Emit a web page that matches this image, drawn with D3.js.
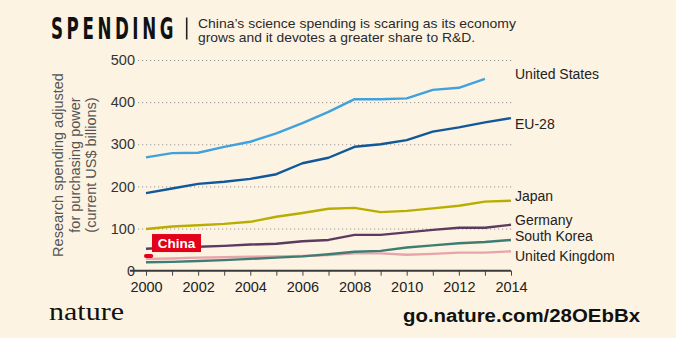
<!DOCTYPE html>
<html>
<head>
<meta charset="utf-8">
<script src="https://cdn.jsdelivr.net/npm/d3@7"></script>
<style>
  body { margin: 0; background: #fdf3e2; }
  svg { display: block; }
</style>
</head>
<body>
<svg id="chart" width="676" height="338" font-family="Liberation Sans, Arial, sans-serif"></svg>
<script>
// data (US$ billions, PPP)
var years = [2000, 2001, 2002, 2003, 2004, 2005, 2006, 2007, 2008, 2009, 2010, 2011, 2012, 2013, 2014];
var unitedStates = [269, 279, 280, 294, 306, 326, 350, 377, 407, 407, 409, 429, 434, 455];
var eu28 = [184, 195, 206, 211, 218, 229, 255, 268, 294, 300, 310, 330, 340, 352, 362];
var japan = [99, 105, 108, 111, 116, 128, 137, 147, 149, 139, 142, 148, 154, 164, 166];
var germany = [52, 55, 57, 59, 62, 64, 70, 73, 85, 85, 91, 97, 102, 102, 109];
var southKorea = [20, 21, 23, 25, 28, 31, 34, 39, 45, 47, 55, 60, 65, 68, 73];
var unitedKingdom = [28, 29, 31, 32, 33, 34, 35, 37, 41, 41, 38, 40, 43, 43, 46];
var chinaYears = [2000, 2000.2];
var china = [35, 35];
var yTicks = [0, 100, 200, 300, 400, 500];
var xTickLabels = [2000, 2002, 2004, 2006, 2008, 2010, 2012, 2014];

var series = [
  {name: 'United Kingdom', values: unitedKingdom, color: '#e9a3ab', labelAt: 35},
  {name: 'South Korea', values: southKorea, color: '#3e7d74', labelAt: 82},
  {name: 'Germany', values: germany, color: '#5b3b5f', labelAt: 120},
  {name: 'Japan', values: japan, color: '#b9ae00', labelAt: 176},
  {name: 'EU-28', values: eu28, color: '#10589a', labelAt: 348},
  {name: 'United States', values: unitedStates, color: '#3fa2dd', labelAt: 467}
];

var svg = d3.select('#chart');

var x = d3.scaleLinear().domain([2000, 2014]).range([146, 511]);
var y = d3.scaleLinear().domain([0, 500]).range([270.7, 60]);

// header: condensed, letter-spaced title squeezed into the space before the bar
var title = svg.append('text')
  .attr('font-family', 'DejaVu Sans Condensed, Liberation Sans Narrow, sans-serif')
  .attr('font-weight', 'bold')
  .attr('font-size', 31)
  .attr('letter-spacing', 6)
  .attr('fill', '#111')
  .text('SPENDING');
var tw = title.node().getBBox().width;
title.attr('transform', 'translate(51,39) scale(' + (126 / tw) + ',1)');

svg.append('line')
  .attr('x1', 186.7).attr('x2', 186.7)
  .attr('y1', 17.5).attr('y2', 39.5)
  .attr('stroke', '#222').attr('stroke-width', 1.6);

var sub = svg.append('g').attr('fill', '#2a2a2a').attr('font-size', 13.5);
sub.append('text').attr('x', 198).attr('y', 27.5)
  .attr('textLength', 318).attr('lengthAdjust', 'spacingAndGlyphs')
  .text('China\u2019s science spending is scaring as its economy');
sub.append('text').attr('x', 198).attr('y', 41.9)
  .attr('textLength', 277).attr('lengthAdjust', 'spacingAndGlyphs')
  .text('grows and it devotes a greater share to R&D.');

// y grid + labels
var yAxis = svg.append('g')
  .attr('transform', 'translate(138,0)')
  .call(d3.axisLeft(y).tickValues(yTicks).tickSize(-(512 - 138)).tickPadding(3));
yAxis.select('.domain').remove();
yAxis.selectAll('.tick line')
  .attr('stroke', '#999')
  .attr('stroke-dasharray', '1.2,2.8')
  .attr('stroke-width', 1);
yAxis.selectAll('.tick').filter(function (d) { return d === 0; }).select('line').remove();
yAxis.selectAll('.tick text')
  .attr('font-size', 14.5)
  .attr('fill', '#333')
  .attr('font-family', 'Liberation Sans, Arial, sans-serif');

// x axis with a tick every year
var xAxis = svg.append('g')
  .attr('transform', 'translate(0,' + y(0) + ')')
  .call(d3.axisBottom(x).tickValues(years).tickSize(5).tickPadding(6)
    .tickFormat(function (d) { return xTickLabels.indexOf(d) > -1 ? d : ''; }));
xAxis.select('.domain').remove();
xAxis.selectAll('.tick line').attr('stroke', '#444').attr('stroke-width', 1);
xAxis.selectAll('.tick text')
  .attr('font-size', 14.5)
  .attr('fill', '#222')
  .attr('font-family', 'Liberation Sans, Arial, sans-serif');

svg.append('line')
  .attr('x1', 130).attr('x2', x(2014))
  .attr('y1', y(0)).attr('y2', y(0))
  .attr('stroke', '#3a3a3a').attr('stroke-width', 2);

// y axis title
var yTitle = svg.append('text')
  .attr('transform', 'translate(58,165) rotate(-90)')
  .attr('text-anchor', 'middle')
  .attr('font-size', 14.5)
  .attr('fill', '#555');
['Research spending adjusted', 'for purchasing power', '(current US$ billions)'].forEach(function (t, i) {
  yTitle.append('tspan')
    .attr('x', 0).attr('dy', i === 0 ? '0.35em' : 16.7)
    .text(t);
});

// lines
var line = d3.line()
  .x(function (d) { return x(d[0]); })
  .y(function (d) { return y(d[1]); });

svg.selectAll('path.series').data(series)
  .enter().append('path')
  .attr('class', 'series')
  .attr('fill', 'none')
  .attr('stroke', function (d) { return d.color; })
  .attr('stroke-width', 2.4)
  .attr('stroke-linejoin', 'round')
  .attr('d', function (d) {
    return line(d.values.map(function (v, i) { return [years[i], v]; }));
  });

svg.append('path')
  .attr('fill', 'none')
  .attr('stroke', '#e2001a')
  .attr('stroke-width', 4)
  .attr('stroke-linecap', 'round')
  .attr('d', line(china.map(function (v, i) { return [chinaYears[i], v]; })));

// right-hand labels
svg.selectAll('text.label').data(series)
  .enter().append('text')
  .attr('class', 'label')
  .attr('x', x(2014) + 4)
  .attr('y', function (d) { return y(d.labelAt); })
  .attr('dy', '0.35em')
  .attr('font-size', 14)
  .attr('fill', '#222')
  .text(function (d) { return d.name; });

// China tag
var tag = svg.append('g');
tag.append('rect')
  .attr('x', x(2000) + 6).attr('y', y(87))
  .attr('width', 49).attr('height', 18)
  .attr('fill', '#e2001a');
tag.append('text')
  .attr('x', x(2000) + 30.5).attr('y', y(87) + 9)
  .attr('dy', '0.36em')
  .attr('text-anchor', 'middle')
  .attr('font-size', 13.5)
  .attr('font-weight', 'bold')
  .attr('fill', '#fff')
  .text('China');

// footer
svg.append('text')
  .attr('x', 49).attr('y', 320)
  .attr('font-family', 'Liberation Serif, DejaVu Serif, serif')
  .attr('font-size', 25)
  .attr('fill', '#111')
  .attr('textLength', 75)
  .attr('lengthAdjust', 'spacingAndGlyphs')
  .text('nature');

svg.append('text')
  .attr('x', 403).attr('y', 321.7)
  .attr('font-size', 18)
  .attr('font-weight', 'bold')
  .attr('fill', '#111')
  .attr('textLength', 237)
  .attr('lengthAdjust', 'spacingAndGlyphs')
  .text('go.nature.com/28OEbBx');
</script>
</body>
</html>
